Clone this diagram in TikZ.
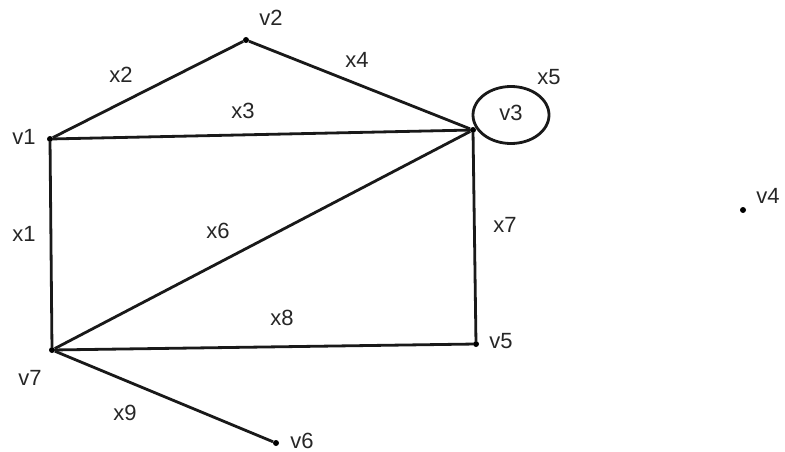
\documentclass[tikz,border=0pt]{standalone}
\usepackage{fontspec}
\setmainfont{Liberation Sans}
\usetikzlibrary{positioning}

\begin{document}
\begin{tikzpicture}[
        x=1pt, y=-1pt,
        every node/.style={font=\fontsize{22}{25}\selectfont, text=black!85},
        vertex/.style={circle, fill=black, inner sep=0pt, minimum size=6pt},
        edge/.style={line width=2.8pt, black!90},
        tag/.style={inner sep=1pt}
    ]
        \useasboundingbox (0,0) rectangle (785,452);

        % vertices
        \node[vertex] (v1) at (50,139) {};
        \node[vertex] (v2) at (246,40) {};
        \node[vertex] (v3) at (473,130) {};
        \node[vertex] (v4) at (743,210) {};
        \node[vertex] (v5) at (476,344) {};
        \node[vertex] (v6) at (276,443) {};
        \node[vertex] (v7) at (52,350) {};

        % vertex names
        \node[tag] (n1) at (24,137) {v1};
        \node[tag] (n2) at (271,18) {v2};
        \node[tag] (n3) at (511,113) {v3};
        \node[tag] (n4) at (768,196) {v4};
        \node[tag] (n5) at (501,341) {v5};
        \node[tag] (n6) at (302,441) {v6};
        \node[tag] (n7) at (30,378) {v7};

        % edges
        \draw[edge] (v7) -- (v1);
        \draw[edge] (v1) -- (v2);
        \draw[edge] (v1) -- (v3);
        \draw[edge] (v2) -- (v3);
        \draw[edge] ([shift={(38,-15)}]v3.center) ellipse [x radius=38, y radius=28.5];
        \draw[edge] (v7) -- (v3);
        \draw[edge] (v3) -- (v5);
        \draw[edge] (v7) -- (v5);
        \draw[edge] (v7) -- (v6);

        % edge names
        \node[tag] (x1) at (24,234) {x1};
        \node[tag] (x2) at (121,75) {x2};
        \node[tag] (x3) at (243,111) {x3};
        \node[tag] (x4) at (357,60) {x4};
        \node[tag] (x5) at (549,77) {x5};
        \node[tag] (x6) at (218,231) {x6};
        \node[tag] (x7) at (505,225) {x7};
        \node[tag] (x8) at (282,318) {x8};
        \node[tag] (x9) at (125,413) {x9};
    \end{tikzpicture}
\end{document}
